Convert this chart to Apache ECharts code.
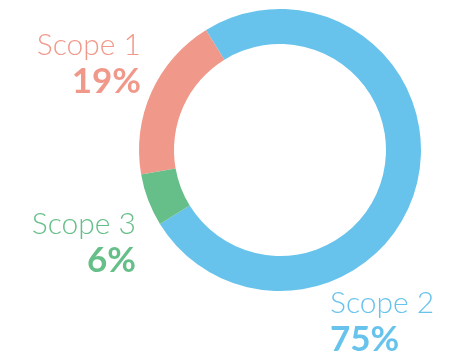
<!DOCTYPE html>
<html>
<head>
<meta charset="utf-8">
<script src="https://cdn.jsdelivr.net/npm/echarts@6/dist/echarts.min.js"></script>
<style>
  html, body { margin: 0; padding: 0; background: #fff; }
  #chart { width: 476px; height: 355px; }
</style>
</head>
<body>
<div id="chart"></div>
<script>
// Emission shares by scope
const scopes = ['Scope 1', 'Scope 2', 'Scope 3'];
const shares = [19, 75, 6];
const scopeColors = ['#F0988A', '#67C3EC', '#66BE88'];

// Where each label block sits (top anchor) and how it is aligned, per scope
const labelSpots = [
  { x: 141, y: 28, align: 'right' },
  { x: 330, y: 286, align: 'left' },
  { x: 136, y: 207, align: 'right' }
];

const chart = echarts.init(document.getElementById('chart'), null, { renderer: 'canvas' });

const labels = scopes.map((name, i) => ({
  type: 'text',
  x: labelSpots[i].x,
  y: labelSpots[i].y,
  silent: true,
  style: {
    text: '{n|' + name + '}\n{p|' + shares[i] + '%}',
    align: labelSpots[i].align,
    verticalAlign: 'top',
    fontFamily: 'Lato',
    fill: scopeColors[i],
    rich: {
      n: { fontSize: 30, fontWeight: 300, lineHeight: 35, fontFamily: 'Lato', fill: scopeColors[i], align: labelSpots[i].align },
      p: { fontSize: 35, fontWeight: 'bold', lineHeight: 38, fontFamily: 'Lato', fill: scopeColors[i], align: labelSpots[i].align }
    }
  }
}));

chart.setOption({
  animation: false,
  graphic: { elements: labels },
  series: [{
    type: 'pie',
    center: [280, 150],
    radius: [106, 141],
    startAngle: 190,
    clockwise: true,
    silent: true,
    label: { show: false },
    labelLine: { show: false },
    data: scopes.map((name, i) => ({
      name,
      value: shares[i],
      itemStyle: { color: scopeColors[i] }
    }))
  }]
});
</script>
</body>
</html>
